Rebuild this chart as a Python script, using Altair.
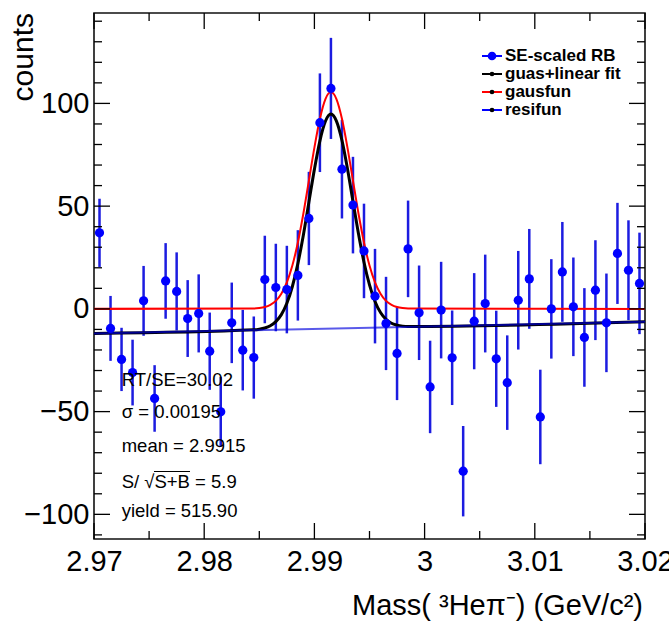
import altair as alt
import pandas as pd

# ---------------- data ----------------
mass = [2.9705, 2.9715, 2.9725, 2.9735, 2.9745, 2.9755, 2.9765, 2.9775, 2.9785, 2.9795,
        2.9805, 2.9815, 2.9825, 2.9835, 2.9845, 2.9855, 2.9865, 2.9875, 2.9885, 2.9895,
        2.9905, 2.9915, 2.9925, 2.9935, 2.9945, 2.9955, 2.9965, 2.9975, 2.9985, 2.9995,
        3.0005, 3.0015, 3.0025, 3.0035, 3.0045, 3.0055, 3.0065, 3.0075, 3.0085, 3.0095,
        3.0105, 3.0115, 3.0125, 3.0135, 3.0145, 3.0155, 3.0165, 3.0175, 3.0185, 3.0195]
counts = [37, -9.5, -24.6, -31, 3.9, -43.6, 13.6, 8.5, -4.7, -2.2,
          -20.6, -50.1, -6.8, -20.1, -23.7, 14.3, 10.4, 9.4, 16.3, 44,
          90.6, 107.3, 68, 50.5, 28.2, 6.2, -7.1, -21.7, 29.2, -1.9,
          -38, -0.6, -23.8, -79, -6, 2.6, -24.3, -35.9, 4.2, 14.6,
          -52.6, 0, 18, 1, -13.9, 9.1, -6.8, 27, 18.8, 12.4]
errors = [16.6, 15.8, 15.4, 16, 17, 16.2, 18.4, 19, 18.7, 19,
          18.8, 17, 19.6, 19.6, 20, 21.3, 21.3, 21.3, 22, 22.7,
          24, 24.6, 24, 23.5, 23, 23, 22.7, 22.7, 23.5, 23,
          22.5, 23.5, 23, 22, 23.4, 23.8, 23.4, 23, 24, 24.3,
          23, 24.2, 24.3, 24, 24, 24.3, 24, 24.6, 24.3, 24.7]

# gausfun (red)
red_x = [2.97, 2.9845, 2.985, 2.9855, 2.986, 2.9865, 2.987, 2.9875, 2.988, 2.9885,
         2.989, 2.9895, 2.99, 2.9905, 2.991, 2.9915, 2.992, 2.9925, 2.993, 2.9935,
         2.994, 2.9945, 2.995, 2.9955, 2.996, 2.9965, 2.997, 2.9975, 2.998, 2.9985, 3.02]
red_y = [0, 0.2, 0.4, 0.9, 2.0, 3.9, 7.4, 12.9, 21.1, 32.3,
         46.4, 62.4, 78.5, 92.5, 102.1, 105.5, 102.1, 92.5, 78.5, 62.4,
         46.4, 32.3, 21.1, 12.9, 7.4, 3.9, 2.0, 0.9, 0.4, 0.2, 0]

# guas+linear fit (black)
black_x = red_x
black_y = [-12.0, -10.2, -9.9, -9.3, -8.2, -6.2, -2.8, 2.7, 10.9, 22.0,
           36.0, 51.9, 67.9, 81.8, 91.3, 94.8, 91.4, 82.0, 68.2, 52.3,
           36.6, 22.7, 11.7, 3.6, -1.8, -5.1, -7.0, -7.9, -8.4, -8.6, -6.3]

# resifun (blue)
blue_x = [2.97, 3.02]
blue_y = [-12.0, -6.3]

x_major = [2.97, 2.98, 2.99, 3.0, 3.01, 3.02]
x_minor = [2.975, 2.985, 2.995, 3.005, 3.015]
y_major = [-100, -50, 0, 50, 100]
y_minor = [-110, -90, -80, -70, -60, -40, -30, -20, -10, 10, 20, 30, 40,
           60, 70, 80, 90, 110, 120, 130, 140]

legend_labels = ["SE-scaled RB", "guas+linear fit", "gausfun", "resifun"]
legend_colors = ["#0000ff", "#000000", "#ff0000", "#0000ff"]
stats_lines = ["RT/SE=30.02", "σ = 0.00195", "mean = 2.9915", "S/ √S+B = 5.9", "yield = 515.90"]

x_title = "Mass( ³Heπ⁻) (GeV/c²)"
y_title = "counts"

# ---------------- layout ----------------
W, H = 551, 526
FONT = "Liberation Sans"
xs = alt.Scale(domain=[2.97, 3.02], nice=False, zero=False)
ys = alt.Scale(domain=[-112, 144], nice=False, zero=False)

df = pd.DataFrame({"m": mass, "c": counts, "e": errors})
df["lo"] = df["c"] - df["e"]
df["hi"] = df["c"] + df["e"]

x_axis = alt.Axis(values=x_major, format="~g", ticks=False, domain=False, grid=False,
                  labelFontSize=29, labelFont=FONT, labelColor="black", labelPadding=8,
                  labelFlush=False, labelOverlap=False, title=None)
y_axis = alt.Axis(values=y_major, ticks=False, domain=False, grid=False,
                  labelFontSize=29, labelFont=FONT, labelColor="black", labelPadding=5,
                  labelOverlap=False, title=None)


def X(field):
    return alt.X(field, scale=xs, axis=x_axis)


def Y(field):
    return alt.Y(field, scale=ys, axis=y_axis)


bars = alt.Chart(df).mark_rule(color="#1c1ce0", strokeWidth=2.5).encode(
    x=X("m:Q"), y=Y("lo:Q"), y2="hi:Q",
)
points = alt.Chart(df).mark_circle(size=85, color="#0000ff", opacity=1).encode(
    x=X("m:Q"), y=Y("c:Q"),
)


def curve(xv, yv, color, width, opacity=1.0):
    d = pd.DataFrame({"x": xv, "y": yv})
    return alt.Chart(d).mark_line(color=color, strokeWidth=width, interpolate="monotone",
                                  clip=True, opacity=opacity).encode(
        x=X("x:Q"), y=Y("y:Q"),
    )


black_line = curve(black_x, black_y, "#000000", 3)
red_line = curve(red_x, red_y, "#ff0000", 2)
blue_line = curve(blue_x, blue_y, "#0000dd", 2, 0.65)

layers = [bars, black_line, red_line, blue_line, points]


# ticks inside the frame (ROOT style)
def xticks(vals, length):
    d = pd.DataFrame({"v": vals})
    base = alt.Chart(d).mark_rule(color="black", strokeWidth=1.3)
    bot = base.encode(x=X("v:Q"), y=alt.value(H), y2=alt.value(H - length))
    top = base.encode(x=X("v:Q"), y=alt.value(0), y2=alt.value(length))
    return [bot, top]


def yticks(vals, length):
    d = pd.DataFrame({"v": vals})
    base = alt.Chart(d).mark_rule(color="black", strokeWidth=1.3)
    left = base.encode(y=Y("v:Q"), x=alt.value(0), x2=alt.value(length))
    right = base.encode(y=Y("v:Q"), x=alt.value(W - length), x2=alt.value(W))
    return [left, right]


layers += xticks(x_major, 16) + xticks(x_minor, 8) + yticks(y_major, 16) + yticks(y_minor, 8)

# legend
for i, (lab, col) in enumerate(zip(legend_labels, legend_colors)):
    yy = 43 + i * 18
    one = pd.DataFrame({"t": [lab]})
    layers.append(alt.Chart(one).mark_rule(color=col, strokeWidth=2).encode(
        x=alt.value(388), x2=alt.value(408), y=alt.value(yy)))
    if i == 0:
        layers.append(alt.Chart(one).mark_circle(size=75, color="#0000ff", opacity=1).encode(
            x=alt.value(398), y=alt.value(yy)))
    else:
        layers.append(alt.Chart(one).mark_circle(size=22, color="#000000", opacity=1).encode(
            x=alt.value(398), y=alt.value(yy)))
    layers.append(alt.Chart(one).mark_text(align="left", baseline="middle", font=FONT,
                                           fontSize=17, fontWeight="bold", color="black").encode(
        text="t:N", x=alt.value(411), y=alt.value(yy)))

# stats box
stat_base = [373, 405.3, 438.7, 475.3, 504.3]
for s, b in zip(stats_lines, stat_base):
    one = pd.DataFrame({"t": [s]})
    layers.append(alt.Chart(one).mark_text(align="left", baseline="alphabetic", font=FONT,
                                           fontSize=18.5, color="black").encode(
        text="t:N", x=alt.value(27.7), y=alt.value(b)))
# overline of the square root
layers.append(alt.Chart(pd.DataFrame({"t": ["o"]})).mark_rule(color="black", strokeWidth=1.2).encode(
    x=alt.value(60), x2=alt.value(96), y=alt.value(458.5)))

# axis titles
layers.append(alt.Chart(pd.DataFrame({"t": [x_title]})).mark_text(
    align="right", baseline="alphabetic", font=FONT, fontSize=29, color="black").encode(
    text="t:N", x=alt.value(549), y=alt.value(602)))
layers.append(alt.Chart(pd.DataFrame({"t": [y_title]})).mark_text(
    align="right", baseline="alphabetic", font=FONT, fontSize=30, color="black", angle=270).encode(
    text="t:N", x=alt.value(-61), y=alt.value(0)))

chart = alt.layer(*layers).properties(
    width=W, height=H,
    autosize=alt.AutoSizeParams(type="none"),
    padding={"left": 94, "top": 13, "right": 24, "bottom": 89},
    background="white",
).configure_view(stroke="#111111", strokeWidth=1.6)

chart.save("out.html", embed_options={"renderer": "svg", "actions": False})
